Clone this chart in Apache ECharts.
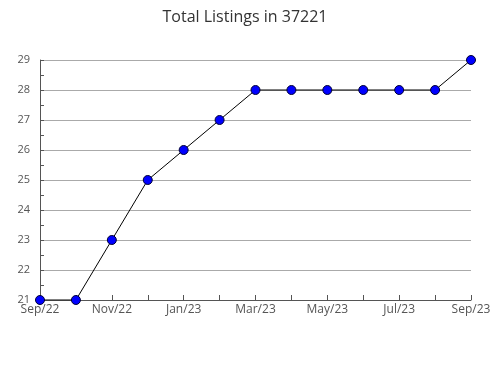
<!DOCTYPE html>
<html><head><meta charset="utf-8">
<script src="https://cdn.jsdelivr.net/npm/echarts@6/dist/echarts.min.js"></script>
<style>html,body{margin:0;padding:0;background:#fff}#c{width:490px;height:380px}</style>
</head><body><div id="c"></div>
<script>
const titleText = "Total Listings in 37221";
const categories = ["Sep/22","Oct/22","Nov/22","Dec/22","Jan/23","Feb/23","Mar/23","Apr/23","May/23","Jun/23","Jul/23","Aug/23","Sep/23"];
const listings = [21,21,23,25,26,27,28,28,28,28,28,28,29];
const yMin = 21, yMax = 29, yStep = 1;

const chart = echarts.init(document.getElementById('c'));
chart.setOption({
  animation: false,
  title: { text: titleText, left: 'center', top: 4,
    textStyle: { fontFamily: 'Open Sans', fontSize: 16, fontWeight: 'normal', color: '#333' } },
  grid: { left: 40, right: 19, top: 60, bottom: 80, containLabel: false, outerBoundsMode: 'none' },
  xAxis: {
    type: 'category', data: categories, boundaryGap: false,
    axisLine: { lineStyle: { color: '#555', width: 1 } },
    axisTick: { show: true, inside: true, length: 5, interval: 0, lineStyle: { color: '#555' } },
    axisLabel: { interval: 1, color: '#555', fontFamily: 'Open Sans', fontSize: 12, margin: 4 },
    splitLine: { show: false }
  },
  yAxis: {
    type: 'value', min: yMin, max: yMax, interval: yStep,
    axisLine: { show: true, lineStyle: { color: '#555', width: 1 } },
    axisTick: { show: true, inside: true, length: 4, lineStyle: { color: '#555' } },
    minorTick: { show: true, splitNumber: 2, length: 4, lineStyle: { color: '#555' } },
    axisLabel: { color: '#555', fontFamily: 'Open Sans', fontSize: 11, margin: 10 },
    splitLine: { show: true, lineStyle: { color: '#aaa', width: 1 } }
  },
  series: [{
    type: 'line', data: listings,
    lineStyle: { color: '#000', width: 1 },
    symbol: 'circle', symbolSize: 9,
    itemStyle: { color: '#0000ff', borderColor: '#000033', borderWidth: 1 }
  }]
});
</script></body></html>
